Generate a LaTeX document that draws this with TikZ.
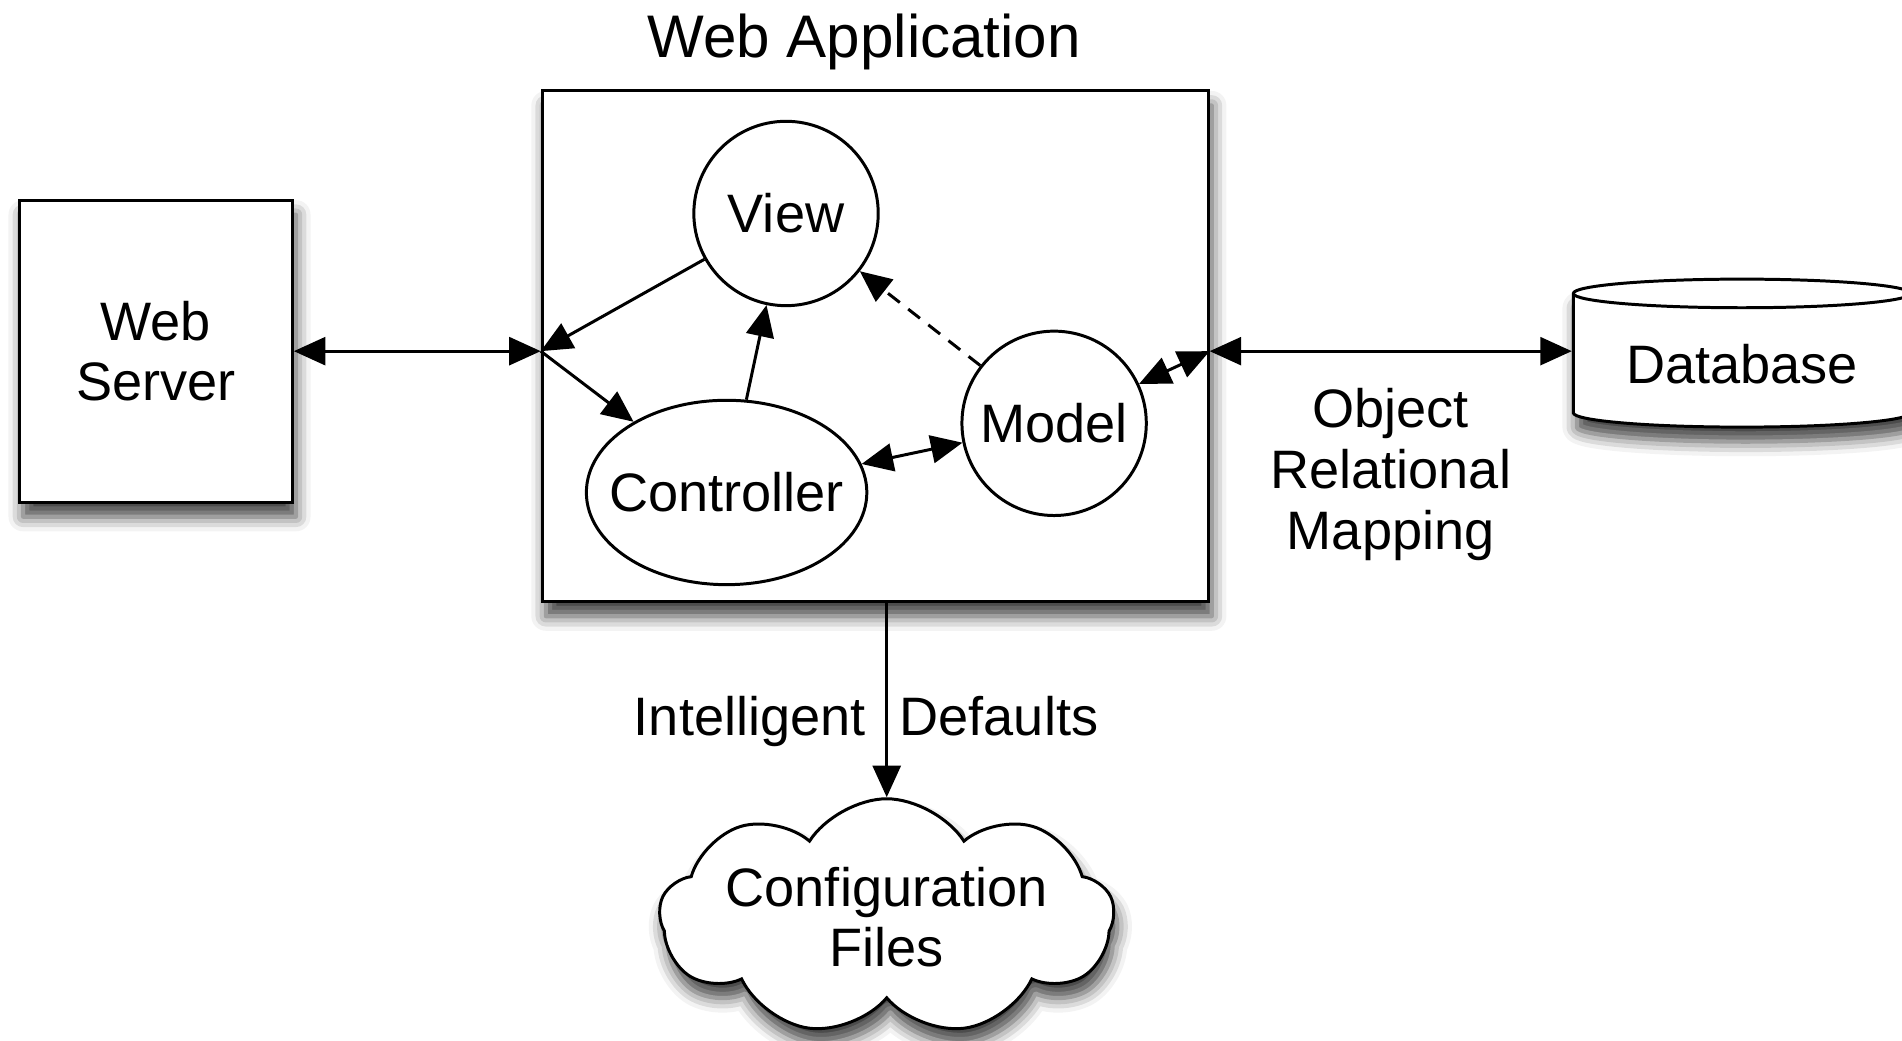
\documentclass[tikz,border=0pt]{standalone}
\usepackage{fontspec}
\setmainfont{Liberation Sans}
\usetikzlibrary{shapes.geometric,shapes.symbols,positioning,calc,arrows.meta,shadows.blur}

\begin{document}
\begin{tikzpicture}[
    font=\fontsize{12.7}{14.2}\selectfont,
    line width=0.7pt,
    >={Triangle[length=2.6mm,width=2.3mm]},
    shadowed/.style={blur shadow={shadow xshift=0.3mm, shadow yshift=-1.2mm, shadow blur radius=1.2mm, shadow opacity=75}},
    box/.style={draw, fill=white, shadowed, align=center},
    bubble/.style={draw, fill=white, align=center, inner sep=0pt},
]
    \useasboundingbox (0,0) rectangle (15.68,-8.58);

    % web application container
    \node[box, minimum width=5.49cm, minimum height=4.21cm] (wa) at (7.215,-2.855) {};
    \node[above=1pt of wa, xshift=-0.09cm, font=\fontsize{14.1}{16}\selectfont] (title) {Web Application};

    % MVC parts
    \node[bubble, circle, minimum size=1.52cm] (view) at (6.48,-1.76) {View};
    \node[bubble, ellipse, inner xsep=-0.15cm, minimum height=1.52cm] (ctrl) at (5.99,-4.06) {Controller};
    \node[bubble, circle, minimum size=1.52cm] (model) at (8.69,-3.49) {Model};

    % outside parts
    \node[box, minimum width=2.25cm, minimum height=2.49cm] (ws) at (1.285,-2.895) {Web\\Server};
    \node[box, cylinder, shape border rotate=90, aspect=0.11, minimum width=2.78cm, minimum height=1.22cm] (db) at (14.36,-3.0) {Database};
    \node[box, cloud, cloud puffs=9, cloud puff arc=115, cloud ignores aspect, minimum width=3.55cm, minimum height=1.95cm, inner sep=0pt] (cfg) at (7.31,-7.56) {Configuration\\Files};

    \coordinate (win) at (wa.west |- ws.east);
    \coordinate (wout) at (wa.east |- ws.east);

    % connections
    \draw[<->] (ws) -- (win);
    \draw[->] (view) -- (win);
    \draw[->] (win) -- (ctrl);
    \draw[->] (ctrl) -- (view);
    \draw[->, dash pattern=on 3.5pt off 2.5pt] (model) -- (view);
    \draw[<->] (ctrl) -- (model);
    \draw[<->] (model) -- (wout);
    \draw[<->] (wout) -- (wout -| db.west) node[midway, below=0.18cm, align=center] (orm) {Object\\Relational\\Mapping};
    \draw[->] (wa.south -| cfg.north) -- (cfg.north) node[pos=0.61, xshift=-0.17cm] (idef) {Intelligent\hspace{0.28cm}Defaults};
\end{tikzpicture}
\end{document}
